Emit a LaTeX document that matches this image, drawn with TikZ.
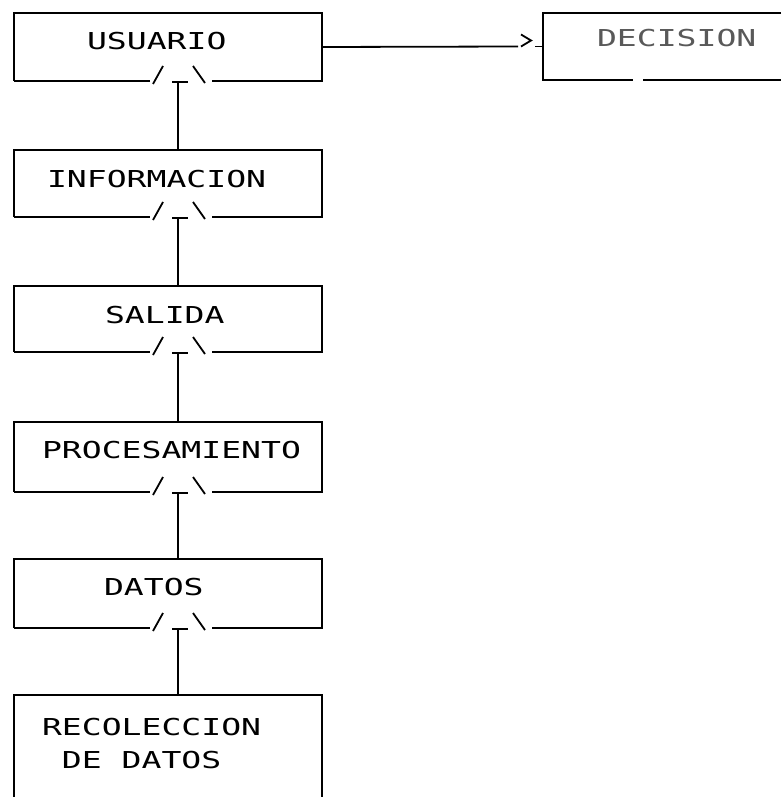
\documentclass[tikz,border=0pt]{standalone}
\usepackage{fontspec}
\newfontfamily\plotfont[FakeStretch=1.42]{DejaVu Sans Mono}
\usetikzlibrary{calc}
\newcommand\openbottom[1]{%
  \draw (#1.south west) -- (#1.north west) -- (#1.north east) -- (#1.south east)
        -- ($(#1.south west)+(198,0)$);
  \draw ($(#1.south west)+(0,0)$) -- ($(#1.south west)+(136,0)$);
  \draw ($(#1.south west)+(139,3)$) -- ($(#1.south west)+(149,-15)$);
  \draw ($(#1.south west)+(179,-15)$) -- ($(#1.south west)+(191,2)$);
  \draw ($(#1.south west)+(158,1)$) -- ($(#1.south west)+(174,1)$);
  \coordinate (#1-tee) at ($(#1.south west)+(164,1)$);
}
\begin{document}
\begin{tikzpicture}[x=1pt,y=-1pt,line width=1.8pt,line cap=butt,
  box/.style={draw=none,rectangle,minimum width=308pt,inner sep=0pt,outer sep=0pt},
  lbl/.style={anchor=base west,inner sep=0pt,outer sep=0pt,
    font=\plotfont\fontsize{23.3}{28}\selectfont},
  conn/.style={draw}]
\fill[white] (0,0) rectangle (781,797);
\useasboundingbox (0,0) rectangle (781,797);

% boxes
\node[box,minimum height=68pt] (usu) at (168,47) {};
\node[box,minimum height=67pt] (inf) at (168,183.5) {};
\node[box,minimum height=66pt] (sal) at (168,319) {};
\node[box,minimum height=70pt] (pro) at (168,457) {};
\node[box,minimum height=69pt] (dat) at (168,593.5) {};
\node[box,minimum height=102pt] (rec) at (168,746) {};
\node[box,minimum width=238pt,minimum height=67pt] (dec) at (662,46.5) {};

\openbottom{usu}
\openbottom{inf}
\openbottom{sal}
\openbottom{pro}
\openbottom{dat}

% recoleccion box: open at bottom
\draw (rec.south west) -- (rec.north west) -- (rec.north east) -- (rec.south east);
% decision box: open at right
\draw (dec.north east) -- (dec.north west) -- (dec.south west) -- ($(dec.south west)+(90,0)$);
\draw ($(dec.south west)+(100,0)$) -- (dec.south east);

% labels
\node[lbl] (usut) at (87,50) {USUARIO};
\node[lbl] (inft) at (47,187) {INFORMACION};
\node[lbl] (salt) at (105,323) {SALIDA};
\node[lbl] (prot) at (42,458) {PROCESAMIENTO};
\node[lbl] (datt) at (104,595) {DATOS};
\node[lbl] (rect) at (42,735) {RECOLECCION};
\node[lbl] (rect2) at (42,768) {\ DE DATOS};
\node[lbl,text=black!65] (dect) at (597,47) {DECISION};

% vertical connectors
\draw[conn] (inf.north -| usu-tee) -- (usu-tee);
\draw[conn] (sal.north -| inf-tee) -- (inf-tee);
\draw[conn] (pro.north -| sal-tee) -- (sal-tee);
\draw[conn] (dat.north -| pro-tee) -- (pro-tee);
\draw[conn] (rec.north -| dat-tee) -- (dat-tee);

% arrow to decision
\coordinate (gtA) at ($(dec.west)+(-25,0)$);
\coordinate (gtB) at ($(dec.west)+(-8,0)$);
\draw[conn] (usu.east) -- (gtA);
\draw ($(gtA)+(3,-12)$) -- ($(gtA)+(13,-6)$) -- ($(gtA)+(3,0)$);
\draw[conn] (gtB) -- (dec.west);
\end{tikzpicture}
\end{document}
